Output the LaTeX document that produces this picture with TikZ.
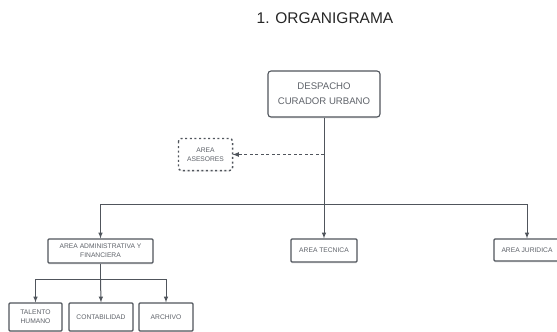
\documentclass[tikz,border=0pt]{standalone}
\usepackage{fontspec}
\setmainfont{Liberation Sans}
\usepackage{tikz}
\usetikzlibrary{calc,shadows}
\definecolor{linea}{HTML}{50555C}
\definecolor{texto}{HTML}{5F636A}

\begin{document}
\begin{tikzpicture}[x=1pt,y=-1pt,
  caja/.style={draw=linea,line width=1.1pt,fill=white,rounded corners=1pt,
    align=center,inner sep=1pt,text=texto,font=\fontsize{6.7}{9}\selectfont,
    drop shadow={opacity=0.12,shadow xshift=0pt,shadow yshift=-1.5pt}},
  conector/.style={draw=linea,line width=1pt},
  flecha/.style={conector,-latex}]
\useasboundingbox (0,0) rectangle (557,332);
  \node[text=black!85,font=\fontsize{15.5}{18}\selectfont] (titulo) at (325,18) {1. ORGANIGRAMA};
  \node[caja,rounded corners=3pt,minimum width=112pt,minimum height=46pt,
    font=\fontsize{9.6}{15}\selectfont] (despacho) at (324,94) {DESPACHO\\CURADOR URBANO};
  \node[caja,rounded corners=3pt,draw=none,minimum width=53pt,minimum height=31pt] (asesores) at (205.5,154.5) {AREA\\ASESORES};
  \draw[linea,line width=1.4pt,dash pattern=on 2pt off 2.6pt,rounded corners=3pt]
    (asesores.north west) rectangle (asesores.south east);
  % segundo nivel
  \node[caja,minimum width=105pt,minimum height=24pt] (admin) at (100.5,251) {AREA ADMINISTRATIVA Y\\FINANCIERA};
  \node[caja,minimum width=66pt,minimum height=23pt] (tecnica) at (324,250.5) {AREA TECNICA};
  \node[caja,minimum width=66pt,minimum height=22pt] (juridica) at (527,250) {AREA JURIDICA};
  % tercer nivel
  \node[caja,minimum width=53pt,minimum height=28pt] (talento) at (35.5,317) {TALENTO\\HUMANO};
  \node[caja,minimum width=64pt,minimum height=28pt] (contab) at (101,317) {CONTABILIDAD};
  \node[caja,minimum width=54pt,minimum height=28pt] (archivo) at (166,317) {ARCHIVO};
  \coordinate (bus) at (324,204);
  \coordinate (subbus) at (100.5,279);
  \draw[flecha] (despacho.south) -- (tecnica.north);
  \draw[flecha] (bus) -| (admin.north);
  \draw[flecha] (bus) -| (juridica.north);
  \draw[conector,-latex,line width=1.2pt,dash pattern=on 3pt off 2.5pt] (despacho.south |- asesores.east) -- (asesores.east);
  \draw[conector] (admin.south) -- (subbus);
  \draw[flecha] (subbus) -| (talento.north);
  \draw[flecha] (subbus) -- (contab.north);
  \draw[flecha] (subbus) -| (archivo.north);
\end{tikzpicture}
\end{document}
